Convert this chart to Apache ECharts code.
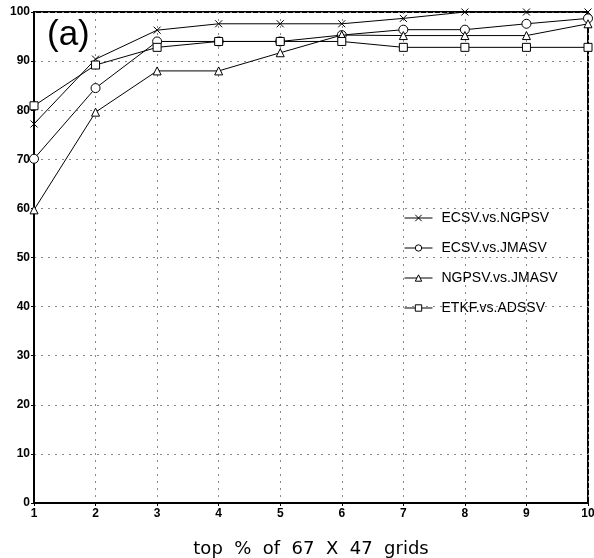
<!DOCTYPE html>
<html><head><meta charset="utf-8">
<script src="https://cdn.jsdelivr.net/npm/echarts@6/dist/echarts.min.js"></script>
<style>html,body{margin:0;padding:0;background:#fff}#c{width:594px;height:558px}</style>
</head><body><div id="c"></div>
<script>
var xValues = [1, 2, 3, 4, 5, 6, 7, 8, 9, 10];
var seriesNames = ['ECSV.vs.NGPSV', 'ECSV.vs.JMASV', 'NGPSV.vs.JMASV', 'ETKF.vs.ADSSV'];
var ecsvNgpsv = [77.2, 90.4, 96.3, 97.6, 97.6, 97.6, 98.7, 100, 100, 100];
var ecsvJmasv = [70.1, 84.5, 94.0, 94.0, 94.0, 95.3, 96.4, 96.4, 97.6, 98.7];
var ngpsvJmasv = [59.7, 79.6, 88.0, 88.0, 91.7, 95.3, 95.2, 95.2, 95.2, 97.6];
var etkfAdssv = [80.9, 89.2, 92.8, 94.0, 94.0, 94.0, 92.8, 92.8, 92.8, 92.8];

var crossPath = 'path://M0,0L10,10M10,0L0,10';
var symbols = [crossPath, 'circle', 'triangle', 'rect'];
var sizes = [7, 9, 8, 8];
var allData = [ecsvNgpsv, ecsvJmasv, ngpsvJmasv, etkfAdssv];

var chart = echarts.init(document.getElementById('c'));
var series = seriesNames.map(function (n, i) {
  return {
    name: n, type: 'line',
    data: xValues.map(function (x, j) { return [x, allData[i][j]]; }),
    symbol: symbols[i], symbolSize: sizes[i], showAllSymbol: true,
    lineStyle: { color: '#000', width: 1 },
    itemStyle: { color: '#fff', borderColor: '#000', borderWidth: 1 },
    emphasis: { disabled: true },
    clip: false, z: 5 + i
  };
});
chart.setOption({
  animation: false,
  backgroundColor: '#fff',
  grid: { left: 34, right: 6, top: 12, bottom: 55, show: true, borderColor: '#000', borderWidth: 2, containLabel: false, outerBoundsMode: 'none' },
  graphic: [{ type: 'text', left: 47, top: 18, style: { text: '(a)', fontSize: 35, fontFamily: 'Liberation Sans', fill: '#000' } }],
  legend: {
    orient: 'vertical', left: 399, top: 206, itemGap: 16, itemWidth: 28, itemHeight: 8,
    data: seriesNames,
    lineStyle: { width: 1 },
    itemStyle: { borderWidth: 1 },
    textStyle: { fontFamily: 'Liberation Sans', fontSize: 14, color: '#000', padding: [0, 0, 0, 4] },
    selectedMode: false, backgroundColor: 'transparent'
  },
  xAxis: {
    type: 'value', min: 1, max: 10, interval: 1,
    name: 'top  %  of  67  X  47  grids', nameLocation: 'middle', nameGap: 37,
    nameTextStyle: { fontFamily: 'DejaVu Sans', fontSize: 18, color: '#000' },
    axisLine: { lineStyle: { color: '#000', width: 2 } },
    axisTick: { show: true, length: 3, lineStyle: { color: '#000' } },
    axisLabel: { color: '#000', fontWeight: 'bold', fontFamily: 'Liberation Sans', fontSize: 12, margin: 5 },
    splitLine: { show: true, lineStyle: { color: '#888', type: [2, 5], width: 1 } }
  },
  yAxis: {
    type: 'value', min: 0, max: 100, interval: 10,
    axisLine: { show: true, lineStyle: { color: '#000', width: 2 } },
    axisTick: { show: true, length: 3, lineStyle: { color: '#000' } },
    axisLabel: { color: '#000', fontWeight: 'bold', fontFamily: 'Liberation Sans', fontSize: 12, margin: 4 },
    splitLine: { show: true, lineStyle: { color: '#888', type: [2, 5], width: 1 } }
  },
  series: series
});
</script></body></html>
